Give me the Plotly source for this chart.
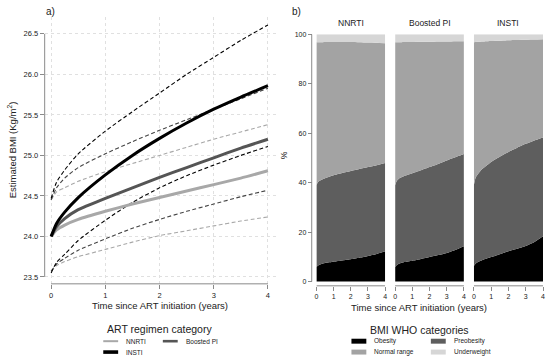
import plotly.graph_objects as go

# ---------------- data: panel a) ----------------
t = [0, 0.1, 0.25, 0.5, 1, 1.5, 2, 2.5, 3, 3.5, 4]
nnrti_mean = [24.00, 24.08, 24.14, 24.21, 24.31, 24.40, 24.48, 24.56, 24.64, 24.72, 24.81]
nnrti_lo = [23.57, 23.64, 23.69, 23.75, 23.84, 23.93, 24.01, 24.07, 24.13, 24.19, 24.24]
nnrti_hi = [24.45, 24.55, 24.60, 24.68, 24.80, 24.90, 25.00, 25.10, 25.20, 25.29, 25.38]
pi_mean = [24.00, 24.12, 24.22, 24.33, 24.47, 24.60, 24.73, 24.85, 24.97, 25.09, 25.20]
pi_lo = [23.57, 23.66, 23.73, 23.83, 23.97, 24.10, 24.21, 24.31, 24.40, 24.49, 24.57]
pi_hi = [24.45, 24.60, 24.72, 24.85, 25.02, 25.17, 25.31, 25.44, 25.57, 25.70, 25.83]
insti_mean = [24.00, 24.16, 24.30, 24.48, 24.76, 25.00, 25.21, 25.40, 25.57, 25.72, 25.86]
insti_lo = [23.55, 23.68, 23.78, 23.95, 24.20, 24.42, 24.60, 24.75, 24.88, 25.00, 25.11]
insti_hi = [24.47, 24.67, 24.82, 25.02, 25.30, 25.54, 25.77, 26.00, 26.21, 26.42, 26.61]
a_yticks = [23.5, 24.0, 24.5, 25.0, 25.5, 26.0, 26.5]
a_xticks = [0, 1, 2, 3, 4]

# ---------------- data: panel b) (cumulative boundaries, %) ----------------
regimens = ["NNRTI", "Boosted PI", "INSTI"]
obesity_top = {
    "NNRTI": [5.9, 6.5, 7.0, 7.5, 8.0, 8.5, 9.0, 9.6, 10.3, 11.2, 12.3],
    "Boosted PI": [5.9, 6.7, 7.3, 7.8, 8.4, 9.1, 9.9, 10.7, 11.6, 12.8, 14.3],
    "INSTI": [6.3, 7.2, 7.9, 8.7, 9.9, 11.1, 12.3, 13.3, 14.4, 16.0, 18.3],
}
preob_top = {
    "NNRTI": [39.0, 40.3, 41.0, 41.8, 43.0, 43.9, 44.7, 45.5, 46.3, 47.1, 48.0],
    "Boosted PI": [39.0, 40.8, 41.8, 42.6, 43.8, 45.0, 46.3, 47.6, 49.0, 50.3, 51.6],
    "INSTI": [39.0, 42.0, 43.6, 45.6, 48.4, 50.5, 52.4, 54.1, 55.7, 57.1, 58.3],
}
normal_top = {
    "NNRTI": [96.8, 96.8, 96.8, 96.9, 96.9, 96.9, 96.9, 96.8, 96.7, 96.6, 96.4],
    "Boosted PI": [96.8, 96.8, 96.8, 96.9, 96.9, 97.0, 97.0, 97.1, 97.1, 97.2, 97.2],
    "INSTI": [96.8, 96.9, 97.0, 97.1, 97.3, 97.4, 97.6, 97.7, 97.8, 97.9, 98.0],
}
b_yticks = [0, 20, 40, 60, 80, 100]
bmi_cats = ["Obesity", "Preobesity", "Normal range", "Underweight"]

# ---------------- styling ----------------
W, H = 550, 358
FONT = "Liberation Sans, Arial, sans-serif"
AX = "#8a8a8a"
TXT = "#222222"
C_NNRTI, C_PI, C_INSTI = "#a8a8a8", "#555555", "#000000"
C_NNRTI_D, C_PI_D, C_INSTI_D = "#a8a8a8", "#444444", "#000000"
CAT_COL = {"Obesity": "#000000", "Preobesity": "#5e5e5e",
           "Normal range": "#a3a3a3", "Underweight": "#d6d6d6"}

def PX(px):
    return px / W

def PY(py):
    return 1 - py / H

fig = go.Figure()

# panel a lines
for y, col, wdt, dash in [
    (nnrti_lo, C_NNRTI_D, 1.1, "dash"), (nnrti_hi, C_NNRTI_D, 1.1, "dash"),
    (pi_lo, C_PI_D, 1.1, "dash"), (pi_hi, C_PI_D, 1.1, "dash"),
    (insti_lo, C_INSTI_D, 1.1, "dash"), (insti_hi, C_INSTI_D, 1.1, "dash"),
    (nnrti_mean, C_NNRTI, 3, "solid"), (pi_mean, C_PI, 3, "solid"),
    (insti_mean, C_INSTI, 3, "solid"),
]:
    fig.add_trace(go.Scatter(x=t, y=y, mode="lines", xaxis="x", yaxis="y",
                             line=dict(color=col, width=wdt, dash=dash if dash == "solid" else "4px,2.5px",
                                       shape="spline", smoothing=0.6),
                             showlegend=False, hoverinfo="skip"))

# panel b stacked areas
xa = ["x2", "x3", "x4"]
for i, reg in enumerate(regimens):
    ob = obesity_top[reg]
    pr = preob_top[reg]
    nr = normal_top[reg]
    shares = {
        "Obesity": ob,
        "Preobesity": [p - o for p, o in zip(pr, ob)],
        "Normal range": [n - p for n, p in zip(nr, pr)],
        "Underweight": [100 - n for n in nr],
    }
    for cat in bmi_cats:
        fig.add_trace(go.Scatter(x=t, y=shares[cat], mode="lines", xaxis=xa[i], yaxis="y2",
                                 stackgroup="s%d" % i, line=dict(width=0, shape="spline", smoothing=0.6),
                                 fillcolor=CAT_COL[cat], showlegend=False, hoverinfo="skip"))

tickfont = dict(family=FONT, size=7.5, color=TXT)

layout = dict(
    width=W, height=H, margin=dict(l=0, r=0, t=0, b=0),
    paper_bgcolor="white", plot_bgcolor="white", showlegend=False,
    font=dict(family=FONT, color=TXT),
    xaxis=dict(domain=[PX(43), PX(277)], range=[-0.119, 4.167], anchor="y",
               tickvals=a_xticks, ticks="outside", ticklen=4, tickcolor=AX, tickwidth=1,
               showline=False, zeroline=False, showgrid=True, gridcolor="#e0e0e0",
               griddash="dot", gridwidth=1, tickfont=tickfont),
    yaxis=dict(domain=[PY(283), PY(13)], range=[23.415, 26.71], anchor="x",
               tickvals=a_yticks, tickformat=".1f", ticks="outside", ticklen=4,
               tickcolor=AX, showline=False, zeroline=False, showgrid=True,
               gridcolor="#e0e0e0", griddash="dot", gridwidth=1, tickfont=tickfont),
    yaxis2=dict(domain=[PY(285), PY(30.7)], range=[-1.72, 100], anchor="free",
                position=PX(312), tickvals=b_yticks, ticks="outside", ticklen=4,
                tickcolor=AX, showline=False, zeroline=False, showgrid=False,
                tickfont=dict(family=FONT, size=7, color=TXT)),
)
fdom = [(316.7, 386), (396, 465.3), (475.3, 545)]
for i, (a, b) in enumerate(fdom):
    layout["xaxis%d" % (i + 2)] = dict(domain=[PX(a), PX(b)], range=[0, 4], anchor="y2",
                                       tickvals=a_xticks, ticks="outside", ticklen=4,
                                       tickcolor=AX, showline=False, zeroline=False,
                                       showgrid=False, tickfont=dict(family=FONT, size=7, color=TXT))
fig.update_layout(**layout)

shapes = []
# axis lines panel a
shapes.append(dict(type="line", xref="x", yref="paper", x0=0, x1=4, y0=PY(283), y1=PY(283),
                   line=dict(color=AX, width=1)))
shapes.append(dict(type="line", xref="paper", yref="y", x0=PX(43), x1=PX(43), y0=23.5, y1=26.5,
                   line=dict(color=AX, width=1)))
# axis lines panel b
for i in range(3):
    shapes.append(dict(type="line", xref=xa[i], yref="paper", x0=0, x1=4, y0=PY(285), y1=PY(285),
                       line=dict(color=AX, width=1)))
shapes.append(dict(type="line", xref="paper", yref="y2", x0=PX(312), x1=PX(312), y0=0, y1=100,
                   line=dict(color=AX, width=1)))

annotations = []
def txt(x, y, s, size, **kw):
    d = dict(x=PX(x), y=PY(y), xref="paper", yref="paper", text=s, showarrow=False,
             font=dict(family=FONT, size=size, color=kw.pop("color", TXT)),
             xanchor=kw.pop("xanchor", "center"), yanchor=kw.pop("yanchor", "middle"))
    d.update(kw)
    annotations.append(d)

txt(49, 8, "a)", 10)
txt(297, 8, "b)", 10)
txt(10, 147, "Estimated BMI (Kg/m<sup>2</sup>)", 9.5, textangle=-90)
txt(159, 305, "Time since ART initiation (years)", 9.5)
txt(420, 306.5, "Time since ART initiation (years)", 9.5)
txt(284, 153, "%", 8.5, textangle=-90)
for i, reg in enumerate(regimens):
    a, b = fdom[i]
    txt((a + b) / 2, 19.5, reg, 8.5)

# legend a
txt(159, 329, "ART regimen category", 10.5)
leg_a = [("NNRTI", C_NNRTI, 2, 102, 341), ("Boosted PI", C_PI, 2.6, 162, 341),
         ("INSTI", C_INSTI, 3.6, 102, 352)]
for name, col, wdt, x0, y0 in leg_a:
    shapes.append(dict(type="line", xref="paper", yref="paper", x0=PX(x0), x1=PX(x0 + 15),
                       y0=PY(y0), y1=PY(y0), line=dict(color=col, width=wdt)))
    txt(x0 + 21, y0, name, 6.5, xanchor="left")

# legend b
txt(421, 329.5, "BMI WHO categories", 10.5)
leg_b = [("Obesity", 352, 341), ("Preobesity", 432, 341),
         ("Normal range", 352, 352), ("Underweight", 432, 352)]
for name, x0, y0 in leg_b:
    shapes.append(dict(type="rect", xref="paper", yref="paper", x0=PX(x0), x1=PX(x0 + 15),
                       y0=PY(y0 + 2.5), y1=PY(y0 - 2.5), line=dict(width=0),
                       fillcolor=CAT_COL[name]))
    txt(x0 + 21, y0, name, 6.5, xanchor="left")

fig.update_layout(shapes=shapes, annotations=annotations)
fig.write_html("out.html", config={"displayModeBar": False},
               post_script="document.body.style.margin='0';document.body.style.padding='0';")
